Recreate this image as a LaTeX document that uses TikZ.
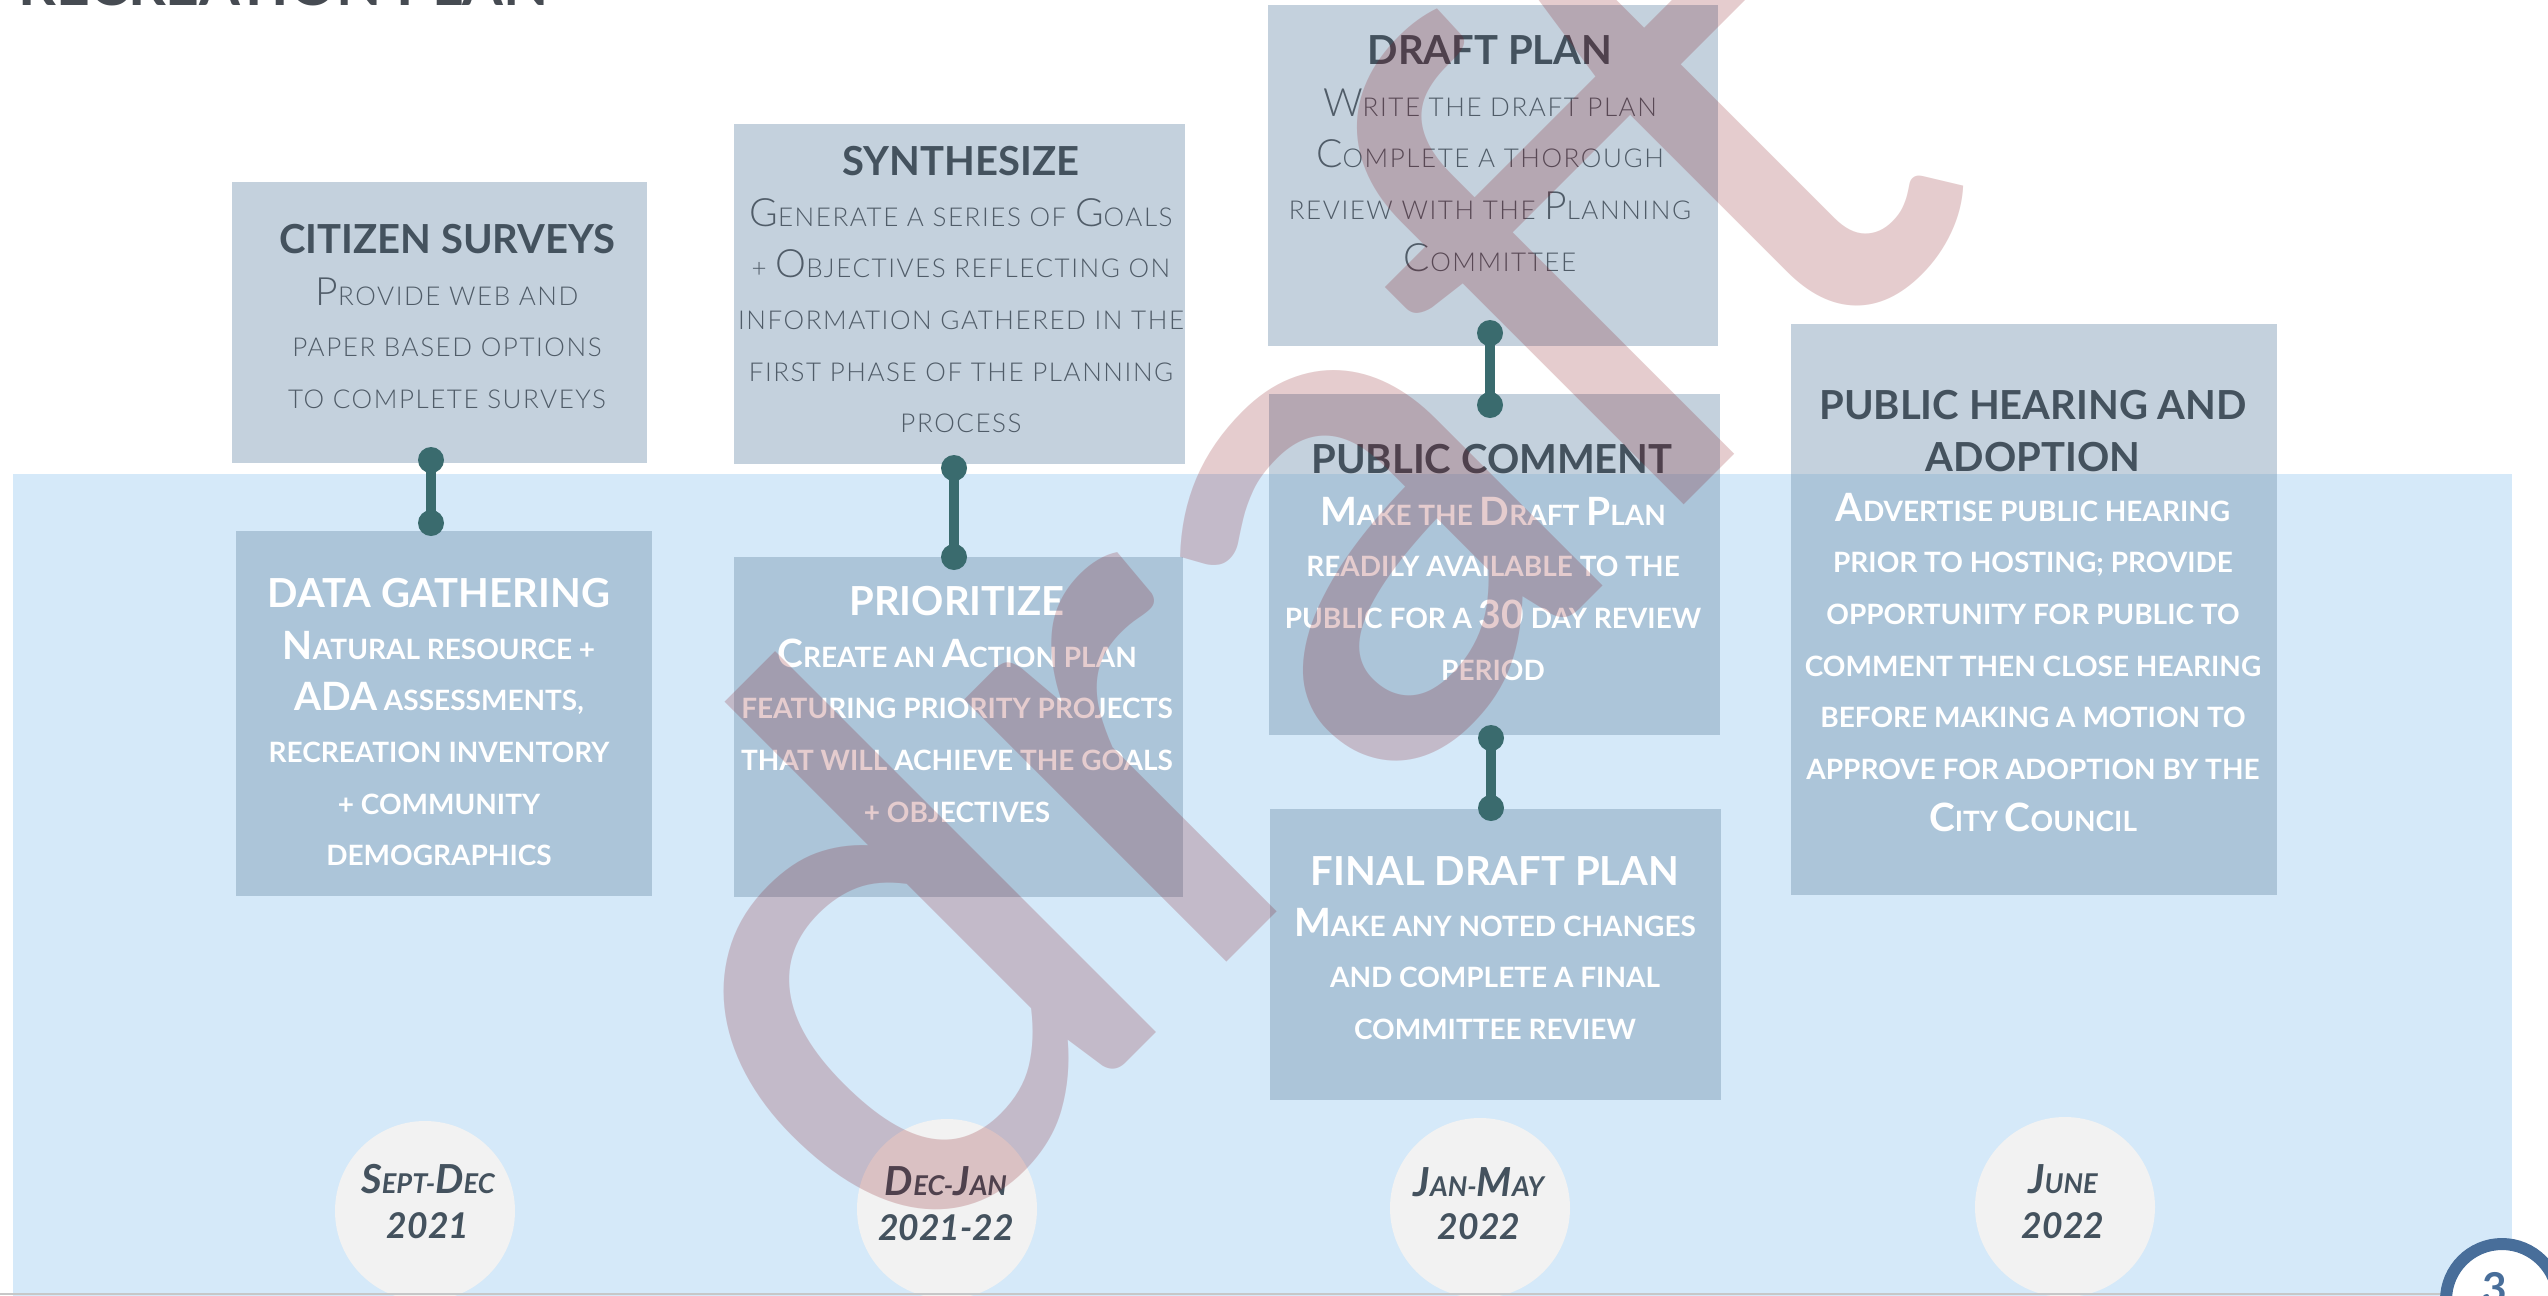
\documentclass[tikz,border=0pt]{standalone}
\usepackage{fontspec}
\setmainfont{Lato}
\newfontfamily\lightfont[LetterSpace=6]{Lato Light}
\newfontfamily\wmfont{Lato Medium}
\definecolor{bandc}{RGB}{213,233,249}
\definecolor{boxc}{RGB}{119,150,177}
\definecolor{darkc}{RGB}{68,82,94}
\definecolor{lgtext}{RGB}{80,92,104}
\definecolor{tealc}{RGB}{58,107,110}
\definecolor{datebg}{RGB}{242,242,242}
\definecolor{pgblue}{RGB}{72,110,154}
\definecolor{wmred}{RGB}{125,0,10}
\definecolor{titlec}{RGB}{70,75,82}
\def\bigsz{15.6pt}
\newcommand\Bg[1]{{\fontsize{\bigsz}{\bigsz}\selectfont #1}}
\newcommand\bodylines[5]{%
  \foreach \tx [count=\i] in {#5} \node[#2] (#1-\i) at (#3, {#4+51.7*(\i-1)}) {\tx};}
\tikzset{
  box/.style={fill=boxc, fill opacity=0.43, draw=none, inner sep=0pt, anchor=center},
  ttl/.style={anchor=base, inner sep=0pt, text=darkc, font=\fontsize{16pt}{17pt}\selectfont\bfseries},
  ttlw/.style={ttl, text=white},
  lgt/.style={anchor=base, inner sep=0pt, text=lgtext, font={\lightfont\def\bigsz{15.6pt}\fontsize{10.4pt}{12pt}\selectfont}},
  wht/.style={anchor=base, inner sep=0pt, text=white, font={\bfseries\def\bigsz{15.6pt}\fontsize{11.2pt}{12pt}\selectfont}},
  datecirc/.style={circle, fill=datebg, minimum size=72pt, inner sep=0pt},
  datem/.style={anchor=base, inner sep=0pt, text=darkc, font={\bfseries\itshape\def\bigsz{16pt}\fontsize{10.9pt}{12pt}\selectfont}},
  datey/.style={anchor=base, inner sep=0pt, text=darkc, font={\bfseries\itshape\fontsize{14.2pt}{15pt}\selectfont}},
  dot/.style={circle, fill=tealc, minimum size=10.4pt, inner sep=0pt},
  conn/.style={draw=tealc, line width=4pt},
  wm/.style={inner sep=0pt, text=wmred, text opacity=0.2, font=\wmfont\fontsize{292pt}{292pt}\selectfont},
}
\begin{document}
\begin{tikzpicture}[x=0.4pt, y=-0.4pt]
\useasboundingbox (0,0) rectangle (2548,1295);
\clip (0,0) rectangle (2548,1295);
\fill[white] (0,0) rectangle (2548,1295);
% title (cut off at top)
\node[anchor=base west, inner sep=0pt, text=titlec, font=\fontsize{23.5pt}{24pt}\selectfont\bfseries] (maintitle) at (18,5) {RECREATION PLAN};
% band
\fill[bandc] (13,474) rectangle (2512,1300);
% boxes
\node[box, minimum width={415*0.4pt}, minimum height={281*0.4pt}] (b1) at (439.5,322.5) {};
\node[box, minimum width={416*0.4pt}, minimum height={365*0.4pt}] (b2) at (444,713.5) {};
\node[box, minimum width={451*0.4pt}, minimum height={340*0.4pt}] (b3) at (959.5,294) {};
\node[box, minimum width={449*0.4pt}, minimum height={340*0.4pt}] (b4) at (958.5,727) {};
\node[box, minimum width={450*0.4pt}, minimum height={341*0.4pt}] (b5) at (1493,175.5) {};
\node[box, minimum width={451*0.4pt}, minimum height={341*0.4pt}] (b6) at (1494.5,564.5) {};
\node[box, minimum width={451*0.4pt}, minimum height={291*0.4pt}] (b7) at (1495.5,954.5) {};
\node[box, minimum width={486*0.4pt}, minimum height={571*0.4pt}] (b8) at (2034,609.5) {};
% connectors
\node[dot] (k1a) at (431,460) {};
\node[dot] (k1b) at (431,523) {};
\node[dot] (k2a) at (954,468) {};
\node[dot] (k2b) at (954,557) {};
\node[dot] (k3a) at (1490,333) {};
\node[dot] (k3b) at (1490,405) {};
\node[dot] (k4a) at (1491,738) {};
\node[dot] (k4b) at (1491,808) {};
\draw[conn] (k1a.center) -- (k1b.center);
\draw[conn] (k2a.center) -- (k2b.center);
\draw[conn] (k3a.center) -- (k3b.center);
\draw[conn] (k4a.center) -- (k4b.center);
% texts
\node[ttl] (t1) at (447,253) {CITIZEN SURVEYS};
\bodylines{l1}{lgt}{447}{305}{{\Bg{P}ROVIDE WEB AND},{PAPER BASED OPTIONS},{TO COMPLETE SURVEYS}}
\node[ttlw] (t2) at (439,607) {DATA GATHERING};
\bodylines{l2}{wht}{439}{659}{{\Bg{N}ATURAL RESOURCE +},{\Bg{ADA} ASSESSMENTS,},{RECREATION INVENTORY},{+ COMMUNITY},{DEMOGRAPHICS}}
\node[ttl] (t3) at (961,175) {SYNTHESIZE};
\bodylines{l3}{lgt}{961}{226}{{\Bg{G}ENERATE A SERIES OF \Bg{G}OALS},{+ \Bg{O}BJECTIVES REFLECTING ON},{INFORMATION GATHERED IN THE},{FIRST PHASE OF THE PLANNING},{PROCESS}}
\node[ttlw] (t4) at (957,615) {PRIORITIZE};
\bodylines{l4}{wht}{957}{667}{{\Bg{C}REATE AN \Bg{A}CTION PLAN},{FEATURING PRIORITY PROJECTS},{THAT WILL ACHIEVE THE GOALS},{+ OBJECTIVES}}
\node[ttl] (t5) at (1490,64) {DRAFT PLAN};
\bodylines{l5}{lgt}{1490}{116}{{\Bg{W}RITE THE DRAFT PLAN},{\Bg{C}OMPLETE A THOROUGH},{REVIEW WITH THE \Bg{P}LANNING},{\Bg{C}OMMITTEE}}
\node[ttl] (t6) at (1492,473) {PUBLIC COMMENT};
\bodylines{l6}{wht}{1493}{525}{{\Bg{M}AKE THE \Bg{D}RAFT \Bg{P}LAN},{READILY AVAILABLE TO THE},{PUBLIC FOR A \Bg{30} DAY REVIEW},{PERIOD}}
\node[ttlw] (t7) at (1495,885) {FINAL DRAFT PLAN};
\bodylines{l7}{wht}{1495}{936}{{\Bg{M}AKE ANY NOTED CHANGES},{AND COMPLETE A FINAL},{COMMITTEE REVIEW}}
\node[ttl] (t8a) at (2033,419) {PUBLIC HEARING AND};
\node[ttl] (t8b) at (2033,471) {ADOPTION};
\bodylines{l8}{wht}{2033}{521}{{\Bg{A}DVERTISE PUBLIC HEARING},{PRIOR TO HOSTING; PROVIDE},{OPPORTUNITY FOR PUBLIC TO},{COMMENT THEN CLOSE HEARING},{BEFORE MAKING A MOTION TO},{APPROVE FOR ADOPTION BY THE},{\Bg{C}ITY \Bg{C}OUNCIL}}
% dates
\node[datecirc] (d1) at (425,1211) {};
\node[datecirc] (d2) at (947,1209) {};
\node[datecirc] (d3) at (1480,1208) {};
\node[datecirc] (d4) at (2065,1207) {};
\node[datem] (m1) at (428,1193) {\Bg{S}EPT-\Bg{D}EC};
\node[datey] (y1) at (428,1238) {2021};
\node[datem] (m2) at (946,1195) {\Bg{D}EC-\Bg{J}AN};
\node[datey] (y2) at (946,1240) {2021-22};
\node[datem] (m3) at (1479,1196) {\Bg{J}AN-\Bg{M}AY};
\node[datey] (y3) at (1479,1239) {2022};
\node[datem] (m4) at (2063,1193) {\Bg{J}UNE};
\node[datey] (y4) at (2063,1238) {2022};
% watermark
\node[wm, rotate=45, anchor=base west] (wmk) at (901,1288) {draft};
% bottom rule and page number
\draw[black!22, line width=0.8pt] (0,1294) -- (2548,1294);
\node[circle, draw=pgblue, line width=4.8pt, fill=white, minimum size={112*0.4pt}, inner sep=0pt] (pg) at (2502,1300) {};
\node[anchor=base, inner sep=0pt, text=pgblue, font=\fontsize{17pt}{18pt}\selectfont\bfseries] (pgn) at (2495,1303) {3};
\end{tikzpicture}
\end{document}
